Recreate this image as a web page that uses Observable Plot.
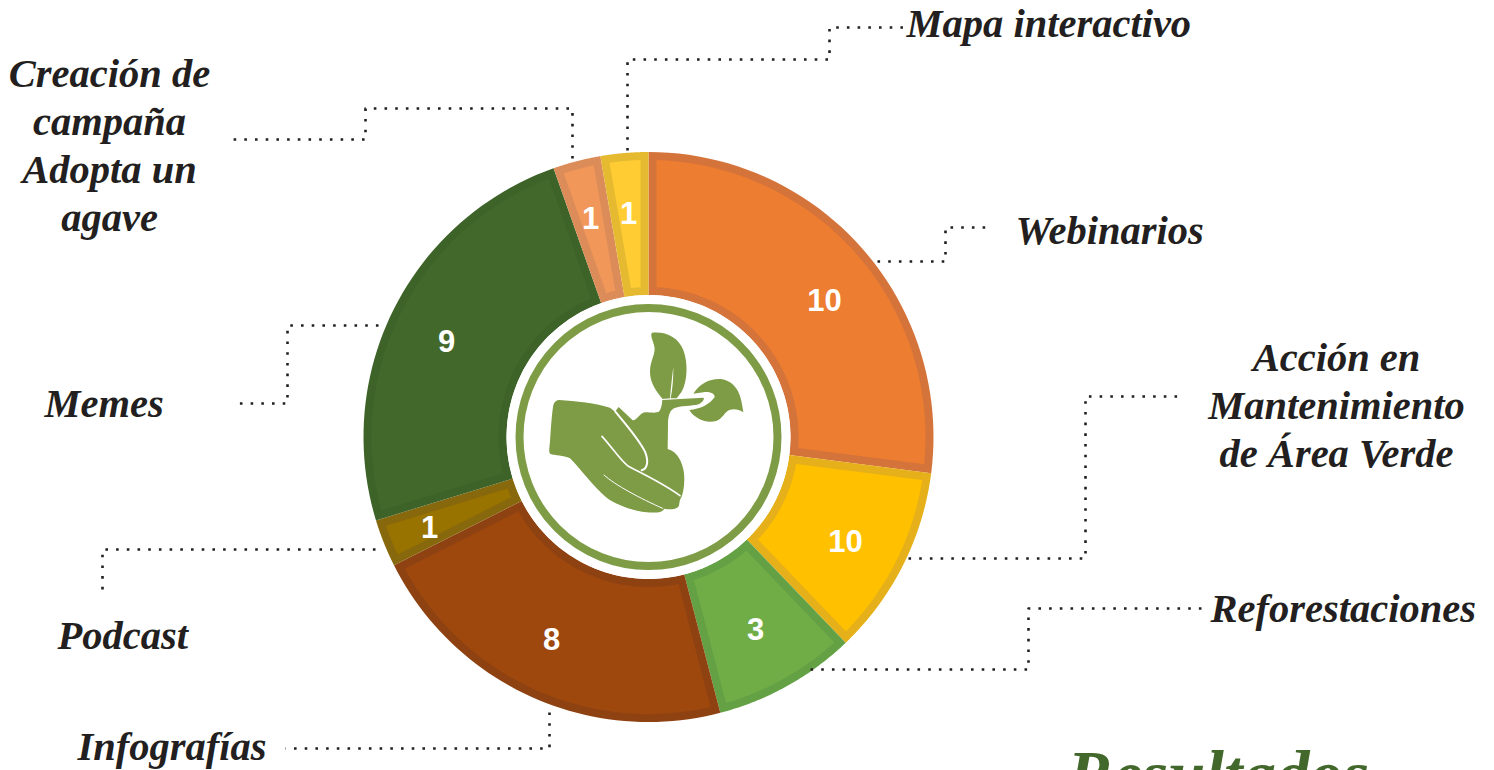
<!DOCTYPE html>
<html lang="es">
<head>
<meta charset="utf-8">
<script src="https://cdn.jsdelivr.net/npm/d3@7"></script>
<script src="https://cdn.jsdelivr.net/npm/@observablehq/plot@0.6"></script>
<style>
  html, body { margin: 0; padding: 0; background: #fff; overflow: hidden; }
  svg { display: block; }
</style>
</head>
<body>
<div id="chart"></div>
<script>
// Data. Slice order runs clockwise from 12 o'clock.
const categories = ["Webinarios", "Acción en\nMantenimiento\nde Área Verde", "Reforestaciones", "Infografías", "Podcast", "Memes", "Creación de\ncampaña\nAdopta un\nagave", "Mapa interactivo"];
// The reference prints "10" on the yellow slice, but that slice's angle is about 4 units.
const sliceValues = [10, 4, 3, 8, 1, 9, 1, 1];
const printedValues = ["10", "10", "3", "8", "1", "9", "1", "1"];

// Styles
const fills = ["#ED7D31", "#FFC000", "#70AD47", "#9E480E", "#997300", "#43682B", "#F1975A", "#FFCD33"];
const edges = ["#D4733A", "#E5B01A", "#64A145", "#8E4212", "#88680C", "#3E6329", "#DB8C58", "#E6BA30"];
const ringColor = "#7E9C45";
const inkColor = "#231F20";
const labelFont = "'Liberation Serif', serif";

// Layout (page pixels)
const width = 1494, height = 770, cx = 648, cy = 436.5;
const outerR = 285, innerR = 142, edgeW = 8;
const printedAt = [[824, 301], [845, 542], [755, 630], [551, 640], [429, 528], [446, 342], [590, 219], [628, 214]];
const labelAnchors = [
  {i: 0, x: 1015, y: 228, a: "start"},
  {i: 1, x: 1336, y: 403, a: "middle"},
  {i: 2, x: 1210, y: 606, a: "start"},
  {i: 3, x: 77, y: 744, a: "start"},
  {i: 4, x: 57, y: 633, a: "start"},
  {i: 5, x: 44, y: 401, a: "start"},
  {i: 6, x: 109, y: 143, a: "middle"},
  {i: 7, x: 906, y: 21, a: "start"}
];
const leaders = [
  [[877, 261], [945, 261], [945, 227], [988, 227]],
  [[908, 558], [1085, 558], [1085, 396], [1184, 396]],
  [[810, 669], [1028, 669], [1028, 608], [1204, 608]],
  [[549, 712], [549, 748], [285, 748]],
  [[375, 549], [102, 549], [102, 590]],
  [[378, 325], [287, 325], [287, 403], [234, 403]],
  [[572, 158], [572, 108], [365, 108], [365, 139], [231, 139]],
  [[627, 150], [627, 59], [829, 59], [829, 27], [907, 27]]
];

// Geometry
const arcs = d3.pie().sort(null)(sliceValues);
const polar = (a, r) => ({x: r * Math.sin(a), y: -r * Math.cos(a)});
function slicePolygon(arc, inset) {
  const ro = outerR - inset, ri = innerR + inset;
  const ao = inset ? Math.asin(inset / ro) : 0, ai = inset ? Math.asin(inset / ri) : 0;
  const pts = [];
  const n = 48;
  for (let k = 0; k <= n; ++k) pts.push(polar(arc.startAngle + ao + (arc.endAngle - arc.startAngle - 2 * ao) * k / n, ro));
  for (let k = n; k >= 0; --k) pts.push(polar(arc.startAngle + ai + (arc.endAngle - arc.startAngle - 2 * ai) * k / n, ri));
  return pts;
}
const printed = printedValues.map((text, i) => ({text, x: printedAt[i][0] - cx, y: printedAt[i][1] - cy}));

// The hand-and-seedling glyph (a pictogram, not data)
function icon() {
  const ns = "http://www.w3.org/2000/svg";
  const g = document.createElementNS(ns, "g");
  g.setAttribute("transform", "translate(500,295) scale(0.33333)");
  const add = (d, attrs) => {
    const p = document.createElementNS(ns, "path");
    p.setAttribute("d", d);
    for (const k in attrs) p.setAttribute(k, attrs[k]);
    g.appendChild(p);
  };
  const green = {fill: ringColor};
  // hand, soil and stem
  add("M178 315 C225 318 290 325 330 338 L345 350 L356 336 L398 376 C410 378 420 352 437 352 C450 352 470 356 478 349 C484 340 486 328 487 315 L610 308 C615 312 608 322 596 328 C575 334 540 332 522 340 C508 348 504 365 504 390 L503 462 C530 468 548 500 552 535 C555 565 550 590 545 605 C540 610 538 622 537 632 C530 643 515 645 492 641 C490 652 470 654 440 652 C400 648 350 630 320 608 C280 575 240 520 210 490 C190 480 165 482 150 476 C146 470 148 460 150 440 C153 400 155 360 160 330 C163 320 170 315 178 315 Z", green);
  // upper leaf
  add("M456 113 C495 108 535 125 550 165 C565 205 562 260 545 290 L530 310 L512 310 C518 280 520 250 520 215 C515 255 512 285 510 310 L488 312 C470 290 450 265 450 230 C450 195 470 175 462 150 C458 135 450 120 456 113 Z", green);
  // right leaf
  add("M580 296 C600 265 630 250 662 252 C695 256 715 280 722 310 C726 325 728 340 730 352 C715 342 695 338 680 350 C665 365 660 380 630 380 C605 380 580 365 568 345 C600 342 630 328 644 306 C645 296 630 290 615 291 Z", green);
  // white creases
  const crease = {fill: "none", stroke: "#fff", "stroke-linecap": "round"};
  add("M346 350 C375 385 415 430 435 470 C445 495 445 520 425 526", {...crease, "stroke-width": 6});
  add("M306 424 C335 455 360 495 385 514 C420 532 490 565 540 602", {...crease, "stroke-width": 5});
  add("M312 540 C345 570 420 610 488 640", {...crease, "stroke-width": 3});
  return g;
}

const chart = Plot.plot({
  width, height,
  margin: 0,
  x: {domain: [-cx, width - cx], range: [0, width], axis: null},
  y: {domain: [-cy, height - cy], range: [0, height], axis: null},
  style: {background: "#fff", overflow: "hidden"},
  marks: [
    // slices: darker edge band, then the inset fill
    ...arcs.flatMap((arc, i) => [
      Plot.line(slicePolygon(arc, 0), {x: "x", y: "y", fill: edges[i], stroke: "none", curve: "linear-closed"}),
      Plot.line(slicePolygon(arc, edgeW), {x: "x", y: "y", fill: fills[i], stroke: "none", curve: "linear-closed"})
    ]),
    // centre disc and ring
    Plot.dot([{x: 0, y: 0}], {x: "x", y: "y", r: innerR, fill: "#fff", stroke: "none"}),
    Plot.dot([{x: 0, y: 0}], {x: "x", y: "y", r: 129, fill: "#fff", stroke: ringColor, strokeWidth: 8}),
    icon,
    // printed values
    Plot.text(printed, {x: "x", y: "y", text: "text", fill: "#fff", fontFamily: "'Liberation Sans', Arial, sans-serif", fontWeight: "bold", fontSize: 31}),
    // dotted leaders
    ...leaders.map(path => Plot.line(path, {
      x: d => d[0] - cx, y: d => d[1] - cy,
      stroke: "#231F20", strokeWidth: 2.6, strokeDasharray: "2.6 8.1", strokeLinecap: "butt", curve: "linear"
    })),
    // category labels
    ...labelAnchors.map(l => Plot.text([categories[l.i]], {
      x: () => l.x - cx, y: () => l.y - cy, text: d => d,
      textAnchor: l.a, lineAnchor: "middle", lineHeight: 1.185,
      fill: inkColor, fontFamily: labelFont, fontStyle: "italic", fontWeight: "bold", fontSize: 40.5
    })),
    // page title cut by the lower edge, as in the reference
    Plot.text(["Resultados"], {
      x: () => 1067 - cx, y: () => 796 - cy, text: d => d,
      textAnchor: "start", lineAnchor: "bottom",
      fill: "#43682B", fontFamily: labelFont, fontStyle: "italic", fontWeight: "bold", fontSize: 67
    })
  ]
});
document.getElementById("chart").appendChild(chart);
</script>
</body>
</html>
